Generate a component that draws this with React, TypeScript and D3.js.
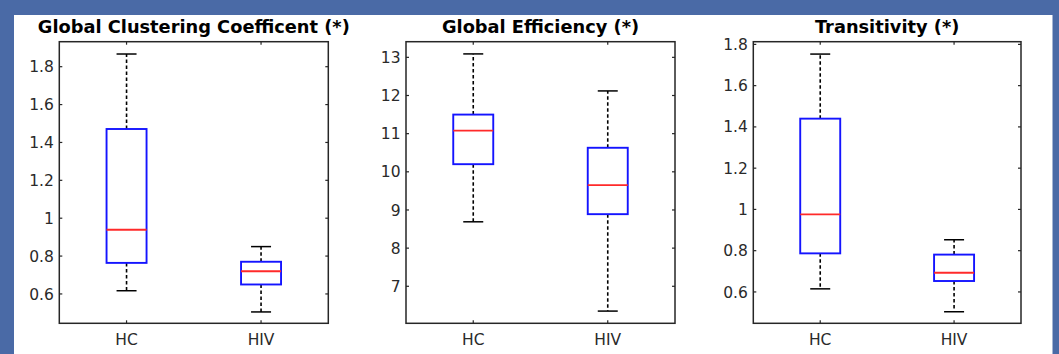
import React from "react";
import * as d3 from "d3";

// ---- data ----
const categories = ["HC", "HIV"];
const titles = ["Global Clustering Coefficent (*)", "Global Efficiency (*)", "Transitivity (*)"];
// [lower whisker, Q1, median, Q3, upper whisker] per category
const clusteringStats = [
  [0.617, 0.764, 0.939, 1.471, 1.867],
  [0.505, 0.65, 0.72, 0.77, 0.85],
];
const efficiencyStats = [
  [8.69, 10.2, 11.08, 11.5, 13.09],
  [6.35, 8.89, 9.65, 10.63, 12.12],
];
const transitivityStats = [
  [0.615, 0.787, 0.976, 1.44, 1.753],
  [0.504, 0.653, 0.693, 0.781, 0.853],
];
const clusteringTicks = [0.6, 0.8, 1, 1.2, 1.4, 1.6, 1.8];
const efficiencyTicks = [7, 8, 9, 10, 11, 12, 13];
const transitivityTicks = [0.6, 0.8, 1, 1.2, 1.4, 1.6, 1.8];
const clusteringDomain = [0.445, 1.932];
const efficiencyDomain = [6.03, 13.41];
const transitivityDomain = [0.448, 1.813];

const panels = [
  { title: titles[0], stats: clusteringStats, ticks: clusteringTicks, domain: clusteringDomain, left: 59.3, right: 328.3 },
  { title: titles[1], stats: efficiencyStats, ticks: efficiencyTicks, domain: efficiencyDomain, left: 406, right: 675 },
  { title: titles[2], stats: transitivityStats, ticks: transitivityTicks, domain: transitivityDomain, left: 753.3, right: 1021 },
];

const TOP = 41.7;
const BOTTOM = 323.3;
const AXIS = "#262626";
const FONT = "'DejaVu Sans', sans-serif";

function Panel({ p }: { p: any }) {
  const x = d3.scalePoint<string>().domain(categories).range([p.left, p.right]).padding(0.5);
  const y = d3.scaleLinear().domain(p.domain).range([BOTTOM, TOP]);
  const boxW = 40;
  const capW = 20;
  const tl = 3;
  const fmt = (v: number) => d3.format("~g")(v);
  return (
    <g>
      <text
        x={(p.left + p.right) / 2}
        y={33}
        textAnchor="middle"
        fontFamily={FONT}
        fontWeight="bold"
        fontSize={17.8}
        fill="#000"
      >
        {p.title}
      </text>
      <rect x={p.left} y={TOP} width={p.right - p.left} height={BOTTOM - TOP} fill="#fff" />
      {p.ticks.map((t: number) => (
        <g key={t}>
          <line x1={p.left} x2={p.left + tl} y1={y(t)} y2={y(t)} stroke={AXIS} strokeWidth={1.2} />
          <line x1={p.right} x2={p.right - tl} y1={y(t)} y2={y(t)} stroke={AXIS} strokeWidth={1.2} />
          <text
            x={p.left - 5.5}
            y={y(t)}
            dy="0.36em"
            textAnchor="end"
            fontFamily={FONT}
            fontSize={15.5}
            fill="#2a2a2a"
          >
            {fmt(t)}
          </text>
        </g>
      ))}
      {categories.map((c) => (
        <g key={c}>
          <line x1={x(c)} x2={x(c)} y1={BOTTOM} y2={BOTTOM - tl} stroke={AXIS} strokeWidth={1.2} />
          <line x1={x(c)} x2={x(c)} y1={TOP} y2={TOP + tl} stroke={AXIS} strokeWidth={1.2} />
          <text x={x(c)} y={345} textAnchor="middle" fontFamily={FONT} fontSize={15.5} fill="#2a2a2a">
            {c}
          </text>
        </g>
      ))}
      {p.stats.map((s: number[], i: number) => {
        const cx = x(categories[i]) as number;
        const [lo, q1, med, q3, hi] = s;
        return (
          <g key={i}>
            <line x1={cx} x2={cx} y1={y(q3)} y2={y(hi)} stroke="#000" strokeWidth={1.6} strokeDasharray="3.5,2.5" />
            <line x1={cx} x2={cx} y1={y(q1)} y2={y(lo)} stroke="#000" strokeWidth={1.6} strokeDasharray="3.5,2.5" />
            <line x1={cx - capW / 2} x2={cx + capW / 2} y1={y(hi)} y2={y(hi)} stroke="#000" strokeWidth={1.5} />
            <line x1={cx - capW / 2} x2={cx + capW / 2} y1={y(lo)} y2={y(lo)} stroke="#000" strokeWidth={1.5} />
            <rect
              x={cx - boxW / 2}
              y={y(q3)}
              width={boxW}
              height={y(q1) - y(q3)}
              fill="none"
              stroke="#1414ff"
              strokeWidth={1.9}
            />
            <line x1={cx - boxW / 2} x2={cx + boxW / 2} y1={y(med)} y2={y(med)} stroke="#ff2a2a" strokeWidth={1.9} />
          </g>
        );
      })}
      <rect
        x={p.left}
        y={TOP}
        width={p.right - p.left}
        height={BOTTOM - TOP}
        fill="none"
        stroke={AXIS}
        strokeWidth={1.5}
      />
    </g>
  );
}

export default function App() {
  return (
    <svg
      width={1059}
      height={354}
      style={{ position: "absolute", left: 0, top: 0, display: "block" }}
    >
      <rect x={0} y={0} width={1059} height={354} fill="#4a6aa6" />
      <rect x={14} y={15} width={1038.5} height={339} fill="#fff" />
      {panels.map((p, i) => (
        <Panel key={i} p={p} />
      ))}
    </svg>
  );
}
